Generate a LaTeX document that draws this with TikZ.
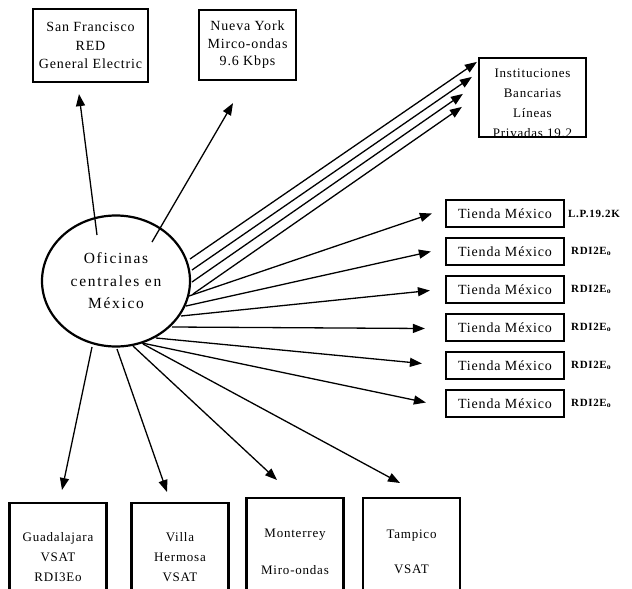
\documentclass[tikz,border=0pt]{standalone}
\usepackage{fontspec}
\setmainfont[LetterSpace=6]{Liberation Serif}
\newfontfamily\widefont[LetterSpace=11]{Liberation Serif}
\usetikzlibrary{arrows.meta,shapes.geometric,calc}
\begin{document}
\begin{tikzpicture}[x=1pt,y=-1pt,
  box/.style={draw,line width=2.2pt,inner sep=0pt,align=center,font=\fontsize{14}{18.5}\selectfont},
  shop/.style={box,minimum width=118pt,minimum height=27pt,font=\fontsize{14}{16}\selectfont},
  tag/.style={anchor=west,inner sep=0pt,font=\bfseries\fontsize{11}{13}\selectfont},
  city/.style={box,minimum width=97pt,minimum height=108pt,anchor=north,font=\fontsize{13}{20}\selectfont},
  link/.style={line width=1.3pt,-{Triangle[length=12pt,width=9pt]}}]
\useasboundingbox (0,0) rectangle (632,589);

% central office
\node[ellipse,draw,line width=2.2pt,minimum width=148pt,minimum height=131pt,inner sep=0pt,
      align=center,font=\widefont\fontsize{15.5}{22.5}\selectfont] (c) at (116,281)
      {Oficinas\\centrales en\\México};

% top boxes
\node[box,minimum width=115pt,minimum height=73pt] (sf) at (90.5,45.5)
      {San Francisco\\RED\\General Electric};
\node[box,minimum width=97pt,minimum height=70pt,font=\fontsize{14}{17.5}\selectfont] (ny) at (247.5,45)
      {Nueva York\\Mirco-ondas\\9.6 Kbps};
\node[box,minimum width=107pt,minimum height=79pt] (inst) at (532.5,97.5) {};
\begin{scope}
  \clip ($(inst.north west)+(2,2)$) rectangle ($(inst.south east)+(-2,-2)$);
  \node[align=center,inner sep=0pt,font=\fontsize{13}{20}\selectfont] (insttext) at (532.5,103)
      {Instituciones\\Bancarias\\Líneas\\Privadas 19.2};
\end{scope}

% shops
\foreach \i/\y in {1/213.5,2/251.5,3/289.5,4/327.5,5/365.5,6/403.5}{
  \node[shop] (t\i) at (505,\y) {Tienda México};
}
\node[tag] (l1) at (568,213.5) {L.P.19.2K};
\foreach \i/\y in {2/251.5,3/289.5,4/327.5,5/365.5,6/403.5}{
  \node[tag] (l\i) at (571,\y) {RDI2E\textsubscript{o}};
}

% bottom boxes
\node[city] (gd) at (58,502) {Guadalajara\\VSAT\\RDI3Eo};
\node[city] (vh) at (180,502) {Villa\\Hermosa\\VSAT};
\node[city] (mt) at (295,497) {Monterrey\\[17pt]Miro-ondas};
\node[city] (tp) at (411.5,497) {Tampico\\[15pt]VSAT};

% start points of the links
\coordinate (s1) at (97,235);
\coordinate (s2) at (152,242);
\coordinate (s3) at (190,259);
\coordinate (s4) at (192,270);
\coordinate (s5) at (192,282);
\coordinate (s6) at (193,294);
\coordinate (s7) at (189,296);
\coordinate (s8) at (186,306);
\coordinate (s9) at (181,316);
\coordinate (s10) at (172,327);
\coordinate (s11) at (156,338);
\coordinate (s12) at (142,343);
\coordinate (s13) at (92,347);
\coordinate (s14) at (117,349);
\coordinate (s15) at (133,346);
\coordinate (s16) at (143,344);

\draw[link] (s1) -- ($(sf.south)+(-11.5,11)$);
\draw[link] (s2) -- ($(ny.south)+(-14.5,22)$);
\draw[link] (s3) -- ($(inst.north west)+(-1,5)$);
\draw[link] (s4) -- ($(inst.north west)+(-6,20)$);
\draw[link] (s5) -- ($(inst.north west)+(-15,37)$);
\draw[link] (s6) -- ($(inst.north west)+(-16,50)$);
\draw[link] (s7) -- ($(t1.west)+(-13,0)$);
\draw[link] (s8) -- ($(t2.west)+(-14,0)$);
\draw[link] (s9) -- ($(t3.west)+(-15,1)$);
\draw[link] (s10) -- ($(t4.west)+(-20,1)$);
\draw[link] (s11) -- ($(t5.west)+(-23,-2)$);
\draw[link] (s12) -- ($(t6.west)+(-19,-1)$);
\draw[link] (s13) -- ($(gd.north)+(4,-12)$);
\draw[link] (s14) -- ($(vh.north)+(-13,-10)$);
\draw[link] (s15) -- ($(mt.north)+(-18,-17)$);
\draw[link] (s16) -- ($(tp.north)+(-11.5,-14)$);
\end{tikzpicture}
\end{document}
